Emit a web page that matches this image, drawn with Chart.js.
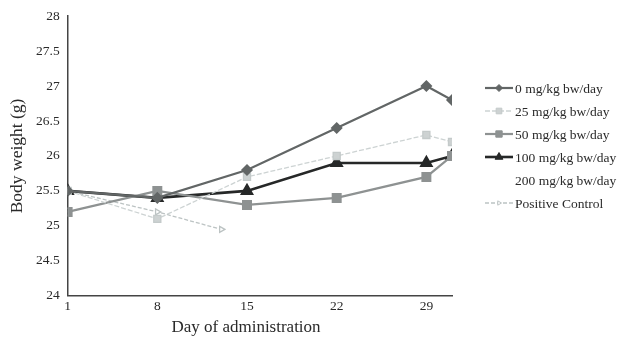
<!DOCTYPE html>
<html>
<head>
<meta charset="utf-8">
<script src="https://cdn.jsdelivr.net/npm/chart.js@4/dist/chart.umd.min.js"></script>
<style>
  html, body { margin: 0; padding: 0; background: #fff; }
  #wrap { width: 618px; height: 340px; position: relative; }
</style>
</head>
<body>
<div id="wrap"><canvas id="bwChart"></canvas></div>
<script>
// days of administration
const days = [1, 8, 15, 22, 29, 31];
const xTicks = [1, 8, 15, 22, 29];

// body weight (g) per group
const dose0 = [25.5, 25.4, 25.8, 26.4, 27.0, 26.8];
const dose25 = [25.5, 25.1, 25.7, 26.0, 26.3, 26.2];
const dose50 = [25.2, 25.5, 25.3, 25.4, 25.7, 26.0];
const dose100 = [25.5, 25.4, 25.5, 25.9, 25.9, 26.0];
const dose200 = [null, null, null, null, null, null];
const posCtrlDays = [1, 8, 13];
const posCtrl = [25.5, 25.2, 24.95];

const pts = (xs, ys) => xs.map((x, i) => ({ x, y: ys[i] }));
const FONT = "'Liberation Serif', 'Times New Roman', serif";

// legend on the right (line + marker + label) and the x axis title
const sideLegend = {
  id: 'sideLegend',
  afterDraw(chart) {
    const ctx = chart.ctx;
    const x0 = 485, x1 = 513, y0 = 88, step = 23;
    chart.data.datasets.forEach((ds, i) => {
      const y = y0 + i * step;
      ctx.save();
      if (ds.legendLine !== false) {
        ctx.strokeStyle = ds.borderColor;
        ctx.lineWidth = ds.borderWidth;
        ctx.setLineDash(ds.borderDash || []);
        ctx.beginPath();
        ctx.moveTo(x0, y);
        ctx.lineTo(x1, y);
        ctx.stroke();
        ctx.setLineDash([]);
        ctx.fillStyle = ds.pointBackgroundColor;
        ctx.strokeStyle = ds.pointBorderColor;
        ctx.lineWidth = 1;
        Chart.helpers.drawPoint(ctx, {
          pointStyle: ds.pointStyle,
          radius: Math.max(ds.pointRadius - 1, 2),
          rotation: ds.pointRotation || 0,
          borderWidth: 1
        }, (x0 + x1) / 2, y);
      }
      ctx.fillStyle = '#2a2a2a';
      ctx.font = '13.5px ' + FONT;
      ctx.textAlign = 'left';
      ctx.textBaseline = 'middle';
      ctx.fillText(ds.label, x1 + 2, y + 1);
      ctx.restore();
    });
    // x axis title, sits left of the plot centre as in the source figure
    ctx.save();
    ctx.fillStyle = '#2a2a2a';
    ctx.font = '17px ' + FONT;
    ctx.textAlign = 'center';
    ctx.textBaseline = 'middle';
    ctx.fillText('Day of administration', 246, 328);
    ctx.restore();
  }
};

new Chart(document.getElementById('bwChart'), {
  type: 'line',
  data: {
    datasets: [
      {
        label: '0 mg/kg bw/day',
        data: pts(days, dose0),
        borderColor: '#626666', borderWidth: 2.2,
        pointStyle: 'rectRot', pointRadius: 4.5,
        pointBackgroundColor: '#626666', pointBorderColor: '#626666'
      },
      {
        label: '25 mg/kg bw/day',
        data: pts(days, dose25),
        borderColor: '#cdd3d3', borderWidth: 1.3, borderDash: [5, 2],
        pointStyle: 'rect', pointRadius: 5,
        pointBackgroundColor: '#cdd2d2', pointBorderColor: '#c4caca'
      },
      {
        label: '50 mg/kg bw/day',
        data: pts(days, dose50),
        borderColor: '#8e9292', borderWidth: 2.2,
        pointStyle: 'rect', pointRadius: 5.5,
        pointBackgroundColor: '#8e9292', pointBorderColor: '#8e9292'
      },
      {
        label: '100 mg/kg bw/day',
        data: pts(days, dose100),
        borderColor: '#262828', borderWidth: 2.6,
        pointStyle: 'triangle', pointRadius: 5.5,
        pointBackgroundColor: '#262828', pointBorderColor: '#262828'
      },
      {
        label: '200 mg/kg bw/day',
        data: pts(days, dose200),
        borderColor: '#fff', borderWidth: 1,
        pointRadius: 0, legendLine: false,
        pointBackgroundColor: '#fff', pointBorderColor: '#fff'
      },
      {
        label: 'Positive Control',
        data: pts(posCtrlDays, posCtrl),
        borderColor: '#bcc3c3', borderWidth: 1.3, borderDash: [4, 2],
        pointStyle: 'triangle', pointRotation: 90, pointRadius: 3.5,
        pointBackgroundColor: '#fff', pointBorderColor: '#bcc3c3'
      }
    ]
  },
  options: {
    responsive: true,
    maintainAspectRatio: false,
    animation: false,
    layout: { padding: { top: 7, right: 166, left: 5, bottom: 22 } },
    elements: { line: { tension: 0 } },
    scales: {
      x: {
        type: 'linear', min: 1, max: 31,
        afterBuildTicks: (axis) => { axis.ticks = xTicks.map(v => ({ value: v })); },
        grid: { display: false, drawTicks: false },
        border: { color: '#444', width: 1.5 },
        ticks: { color: '#2a2a2a', font: { family: FONT, size: 13.5 }, padding: 3 }
      },
      y: {
        min: 24, max: 28,
        grid: { display: false, drawTicks: false },
        border: { color: '#444', width: 1.5 },
        ticks: {
          stepSize: 0.5, color: '#2a2a2a', font: { family: FONT, size: 13.5 }, padding: 8,
          callback: (v) => String(v)
        },
        title: { display: true, text: 'Body weight (g)', color: '#2a2a2a',
                 font: { family: FONT, size: 17.5 }, padding: { top: 2, bottom: 0 } }
      }
    },
    plugins: {
      legend: { display: false },
      tooltip: { enabled: false }
    }
  },
  plugins: [sideLegend]
});
</script>
</body>
</html>
